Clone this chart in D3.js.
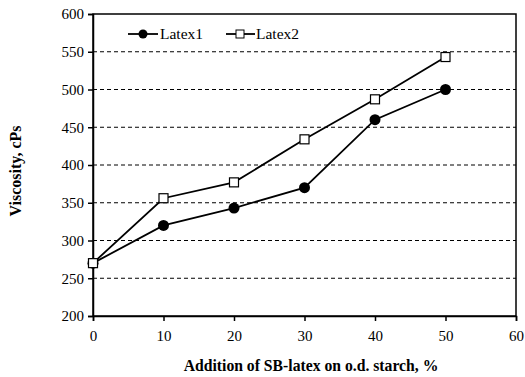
<!DOCTYPE html>
<html><head><meta charset="utf-8">
<script src="https://cdn.jsdelivr.net/npm/d3@7"></script>
<style>body{margin:0;background:#fff}svg{display:block}</style>
</head><body><svg id="c" width="525" height="377"></svg>
<script>
const xValues = [0, 10, 20, 30, 40, 50];
const latex1 = [270, 320, 343, 370, 460, 500];
const latex2 = [270, 356, 377, 434, 487, 543];
const seriesNames = ["Latex1", "Latex2"];
const xTicks = [0, 10, 20, 30, 40, 50, 60];
const yTicks = [200, 250, 300, 350, 400, 450, 500, 550, 600];
const xTitle = "Addition of SB-latex on o.d. starch, %";
const yTitle = "Viscosity, cPs";

const svg = d3.select("#c");
const m = {l: 93, r: 9, t: 14, b: 61};
const W = 525, H = 377;
const x = d3.scaleLinear().domain([0, 60]).range([m.l, W - m.r]);
const y = d3.scaleLinear().domain([200, 600]).range([H - m.b, m.t]);
const font = "'Liberation Serif', 'DejaVu Serif', serif";

// gridlines
svg.append("g").selectAll("line").data(yTicks.filter(d => d > 200 && d < 600)).join("line")
  .attr("x1", x(0)).attr("x2", x(60)).attr("y1", d => y(d)).attr("y2", d => y(d))
  .attr("stroke", "#000").attr("stroke-width", 1).attr("stroke-dasharray", "4,3");

// frame
svg.append("rect").attr("x", x(0)).attr("y", y(600)).attr("width", x(60) - x(0)).attr("height", y(200) - y(600))
  .attr("fill", "none").attr("stroke", "#000").attr("stroke-width", 1.5);

const xAxis = svg.append("g").attr("transform", `translate(0,${y(200)})`)
  .call(d3.axisBottom(x).tickValues(xTicks).tickSize(5).tickPadding(9).tickFormat(d3.format("d")));
const yAxis = svg.append("g").attr("transform", `translate(${x(0)},0)`)
  .call(d3.axisLeft(y).tickValues(yTicks).tickSize(5).tickPadding(4).tickFormat(d3.format("d")));
[xAxis, yAxis].forEach(a => {
  a.select(".domain").attr("stroke-width", 1.5);
  a.selectAll(".tick line").attr("stroke-width", 1.5);
  a.selectAll("text").attr("font-family", font).attr("font-size", 15).attr("fill", "#000");
});

const line = d3.line().x((d, i) => x(xValues[i])).y(d => y(d));
svg.append("path").datum(latex1).attr("d", line).attr("fill", "none").attr("stroke", "#000").attr("stroke-width", 1.8);
svg.append("path").datum(latex2).attr("d", line).attr("fill", "none").attr("stroke", "#000").attr("stroke-width", 1.8);

svg.append("g").selectAll("circle").data(latex1).join("circle")
  .attr("cx", (d, i) => x(xValues[i])).attr("cy", d => y(d)).attr("r", 5.5).attr("fill", "#000");
svg.append("g").selectAll("rect").data(latex2).join("rect")
  .attr("x", (d, i) => x(xValues[i]) - 4.5).attr("y", d => y(d) - 4.5).attr("width", 9).attr("height", 9)
  .attr("fill", "#fff").attr("stroke", "#000").attr("stroke-width", 1.2);

// legend
const ly = 34;
const lg = svg.append("g");
lg.append("line").attr("x1", 128).attr("x2", 158).attr("y1", ly).attr("y2", ly).attr("stroke", "#000").attr("stroke-width", 1.8);
lg.append("circle").attr("cx", 143).attr("cy", ly).attr("r", 4.5).attr("fill", "#000");
lg.append("text").attr("x", 160).attr("y", ly + 5).text(seriesNames[0]).attr("font-family", font).attr("font-size", 15.5);
lg.append("line").attr("x1", 226).attr("x2", 255).attr("y1", ly).attr("y2", ly).attr("stroke", "#000").attr("stroke-width", 1.8);
lg.append("rect").attr("x", 236).attr("y", ly - 4).attr("width", 8).attr("height", 8).attr("fill", "#fff").attr("stroke", "#000").attr("stroke-width", 1);
lg.append("text").attr("x", 256).attr("y", ly + 5).text(seriesNames[1]).attr("font-family", font).attr("font-size", 15.5);

svg.append("text").attr("x", 311).attr("y", 371).attr("text-anchor", "middle")
  .attr("font-family", font).attr("font-size", 15.7).attr("font-weight", "bold").text(xTitle);
svg.append("text").attr("transform", `translate(21,171) rotate(-90)`).attr("text-anchor", "middle")
  .attr("font-family", font).attr("font-size", 16).attr("font-weight", "bold").text(yTitle);
</script></body></html>
